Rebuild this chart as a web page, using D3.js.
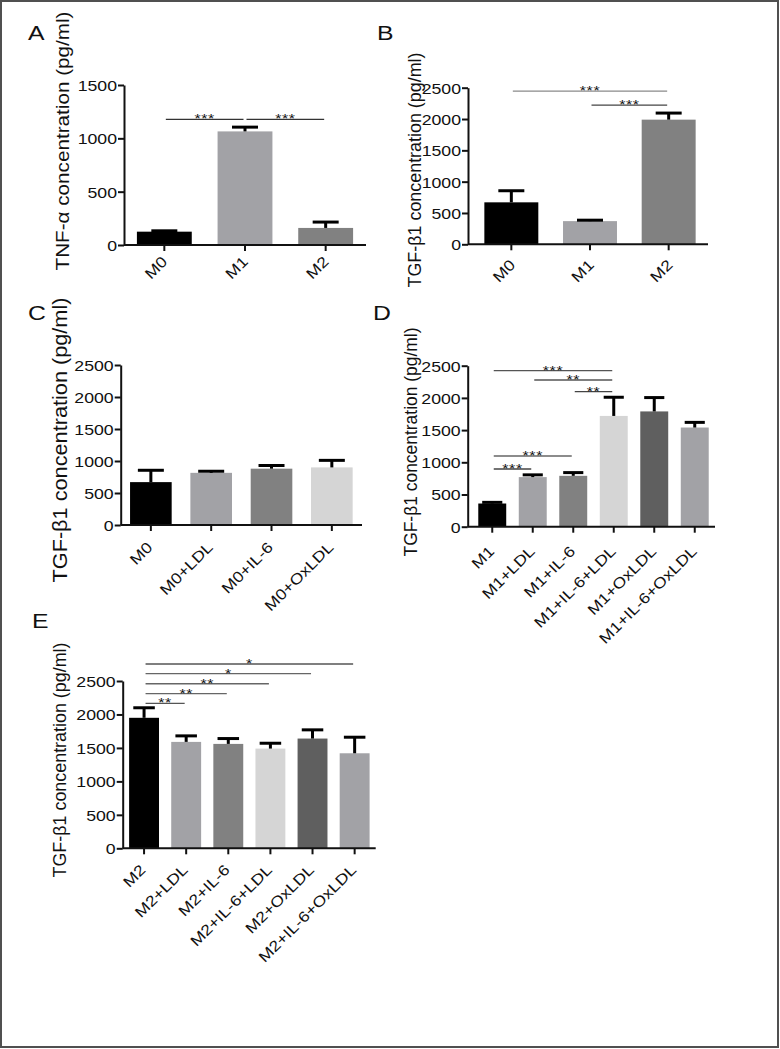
<!DOCTYPE html>
<html><head><meta charset="utf-8">
<script src="https://cdn.jsdelivr.net/npm/d3@7"></script>
<style>
body{margin:0;background:#fff}
text{font-family:"Liberation Sans",Arial,Helvetica,sans-serif;fill:#111}
</style>
</head><body>
<svg id="fig" width="780" height="1049"></svg>
<script>
// ---------- DATA ----------
const catsA = ["M0","M1","M2"];
const meanA = [125,1065,160];
const semA  = [8,40,55];
const ticksA = [0,500,1000,1500];
const sigA = [[0,1,1178,"***"],[1,2,1178,"***"]];

const catsB = ["M0","M1","M2"];
const meanB = [670,370,1990];
const semB  = [185,15,105];
const ticksB = [0,500,1000,1500,2000,2500];
const sigB = [[0,2,2446,"***"],[1,2,2222,"***"]];

const catsC = ["M0","M0+LDL","M0+IL-6","M0+OxLDL"];
const meanC = [670,815,880,900];
const semC  = [185,25,50,110];
const ticksC = [0,500,1000,1500,2000,2500];
const sigC = [];

const catsD = ["M1","M1+LDL","M1+IL-6","M1+IL-6+LDL","M1+OxLDL","M1+IL-6+OxLDL"];
const meanD = [360,770,790,1720,1790,1540];
const semD  = [18,35,50,290,215,80];
const ticksD = [0,500,1000,1500,2000,2500];
const sigD = [[0,3,2422,"***"],[1,3,2278,"**"],[2,3,2096,"**"],[0,2,1098,"***"],[0,1,896,"***"]];

const catsE = ["M2","M2+LDL","M2+IL-6","M2+IL-6+LDL","M2+OxLDL","M2+IL-6+OxLDL"];
const meanE = [1950,1590,1560,1490,1640,1420];
const semE  = [150,90,80,80,130,240];
const ticksE = [0,500,1000,1500,2000,2500];
const sigE = [[0,5,2754,"*"],[0,4,2609,"*"],[0,3,2459,"**"],[0,2,2310,"**"],[0,1,2165,"**"]];

// ---------- STYLE ----------
const K="#000000", LG="#a2a2a6", MG="#818181", VL="#d5d5d5", DG="#5f5f5f";
const colA=[K,LG,MG], colB=[K,LG,MG], colC=[K,LG,MG,VL], colD=[K,LG,MG,VL,DG,LG], colE=[K,LG,MG,VL,DG,LG];
const SX = 1.18; // glyph stretch along baseline

const panels = [
 {L:"A",lx:28,ly:40, cats:catsA,mean:meanA,sem:semA,ticks:ticksA,sig:sigA,col:colA,sigCol:["#333","#333"],
  title:"TNF-\u03b1 concentration (pg/ml)", ax:124,yTop:85,y0:245,bx0:124,bx1:366,pad:0.32,
  tx:69,ty:141,tl:259,tf:19, lab:[4,17.6]},
 {L:"B",lx:377,ly:40, cats:catsB,mean:meanB,sem:semB,ticks:ticksB,sig:sigB,col:colB,sigCol:["#8a8a8a","#444"],
  title:"TGF-\u03b21 concentration (pg/ml)", ax:468,yTop:87.7,y0:244.3,bx0:472,bx1:708,pad:0.314,
  tx:420.7,ty:170,tl:235,tf:18, lab:[5,21.6]},
 {L:"C",lx:28,ly:320, cats:catsC,mean:meanC,sem:semC,ticks:ticksC,sig:sigC,col:colC,sigCol:[],
  title:"TGF-\u03b21 concentration (pg/ml)", ax:120.7,yTop:365,y0:525,bx0:120.7,bx1:362,pad:0.31,
  tx:66.7,ty:440,tl:285,tf:19.5, lab:[2.5,23.3]},
 {L:"D",lx:373,ly:320, cats:catsD,mean:meanD,sem:semD,ticks:ticksD,sig:sigD,col:colD,sigCol:["#555","#555","#444","#666","#444"],
  title:"TGF-\u03b21 concentration (pg/ml)", ax:467.7,yTop:365.7,y0:526.7,bx0:472,bx1:715,pad:0.31,
  tx:417,ty:442,tl:229,tf:18, lab:[3,25.6]},
 {L:"E",lx:32,ly:628, cats:catsE,mean:meanE,sem:semE,ticks:ticksE,sig:sigE,col:colE,sigCol:["#555","#666","#666","#666","#555"],
  title:"TGF-\u03b21 concentration (pg/ml)", ax:122.7,yTop:681,y0:848.3,bx0:123,bx1:375.7,pad:0.29,
  tx:66,ty:760,tl:235,tf:18, lab:[2.5,22.6]}
];

const svg = d3.select("#fig");
svg.append("rect").attr("x",0).attr("y",0).attr("width",780).attr("height",1049).attr("fill","#fff");
svg.append("rect").attr("x",1).attr("y",1).attr("width",777).attr("height",1046)
   .attr("fill","none").attr("stroke","#505050").attr("stroke-width",2);

panels.forEach(p=>{
  const g = svg.append("g");
  const xs = d3.scaleBand().domain(p.cats).range([p.bx0,p.bx1]).paddingInner(p.pad).paddingOuter(p.pad/2);
  const ys = d3.scaleLinear().domain([0,d3.max(p.ticks)]).range([p.y0,p.yTop]);
  const cx = c => xs(c)+xs.bandwidth()/2;
  const bw = xs.bandwidth();
  const cap = Math.min(bw*0.72, 26);

  // panel letter
  g.append("text").attr("transform",`translate(${p.lx},${p.ly}) scale(${SX},1)`)
   .attr("font-size",21).text(p.L);

  // y title
  g.append("text").attr("transform",`translate(${p.tx},${p.ty}) rotate(-90)`)
   .attr("text-anchor","middle").attr("font-size",p.tf)
   .attr("textLength",p.tl).attr("lengthAdjust","spacingAndGlyphs").text(p.title);

  // bars
  const idx = d3.range(p.cats.length);
  g.selectAll("rect.bar").data(idx).join("rect").attr("class","bar")
   .attr("x",i=>xs(p.cats[i])).attr("width",bw)
   .attr("y",i=>ys(p.mean[i])).attr("height",i=>ys(0)-ys(p.mean[i]))
   .attr("fill",i=>p.col[i]);

  // error bars (upper only)
  g.selectAll("line.eb").data(idx).join("line").attr("class","eb")
   .attr("x1",i=>cx(p.cats[i])).attr("x2",i=>cx(p.cats[i]))
   .attr("y1",i=>ys(p.mean[i])).attr("y2",i=>ys(p.mean[i]+p.sem[i]))
   .attr("stroke","#000").attr("stroke-width",3);
  g.selectAll("line.cap").data(idx).join("line").attr("class","cap")
   .attr("x1",i=>cx(p.cats[i])-cap/2).attr("x2",i=>cx(p.cats[i])+cap/2)
   .attr("y1",i=>ys(p.mean[i]+p.sem[i])).attr("y2",i=>ys(p.mean[i]+p.sem[i]))
   .attr("stroke","#000").attr("stroke-width",3);

  // significance
  p.sig.forEach((s,k)=>{
    const x1=cx(p.cats[s[0]])+1.5, x2=cx(p.cats[s[1]])-1.5, y=ys(s[2]);
    g.append("line").attr("x1",x1).attr("x2",x2).attr("y1",y).attr("y2",y)
     .attr("stroke",p.sigCol[k]).attr("stroke-width",1.3);
    g.append("text").attr("transform",`translate(${(x1+x2)/2},${y+4}) scale(${SX},1)`)
     .attr("text-anchor","middle").attr("font-size",13.5).attr("letter-spacing",0.5).text(s[3]);
  });

  // y axis
  const yg = g.append("g").attr("transform",`translate(${p.ax},0)`).attr("color","#111")
    .call(d3.axisLeft(ys).tickValues(p.ticks).tickSize(6).tickSizeOuter(0).tickFormat(d3.format("d")));
  yg.selectAll("path,line").attr("stroke-width",2);
  yg.selectAll(".tick text").attr("x",0).attr("dy","0.36em")
    .attr("transform",`translate(-7,0) scale(${SX},1)`).attr("font-size",15).attr("font-family",null);

  // x axis
  const xg = g.append("g").attr("transform",`translate(0,${p.y0})`).attr("color","#111")
    .call(d3.axisBottom(xs).tickSize(6).tickSizeOuter(0));
  xg.select(".domain").remove();
  xg.selectAll("line").attr("stroke-width",2);
  xg.append("line").attr("x1",p.ax).attr("x2",xs.range()[1]).attr("y1",0).attr("y2",0)
    .attr("stroke","#111").attr("stroke-width",2);
  xg.selectAll(".tick text").attr("x",0).attr("y",0).attr("dy",null)
    .attr("text-anchor","end").attr("font-size",15).attr("font-family",null)
    .attr("transform",`translate(${p.lab[0]},${p.lab[1]}) rotate(-45) scale(${SX},1)`);
});
</script>
</body></html>
